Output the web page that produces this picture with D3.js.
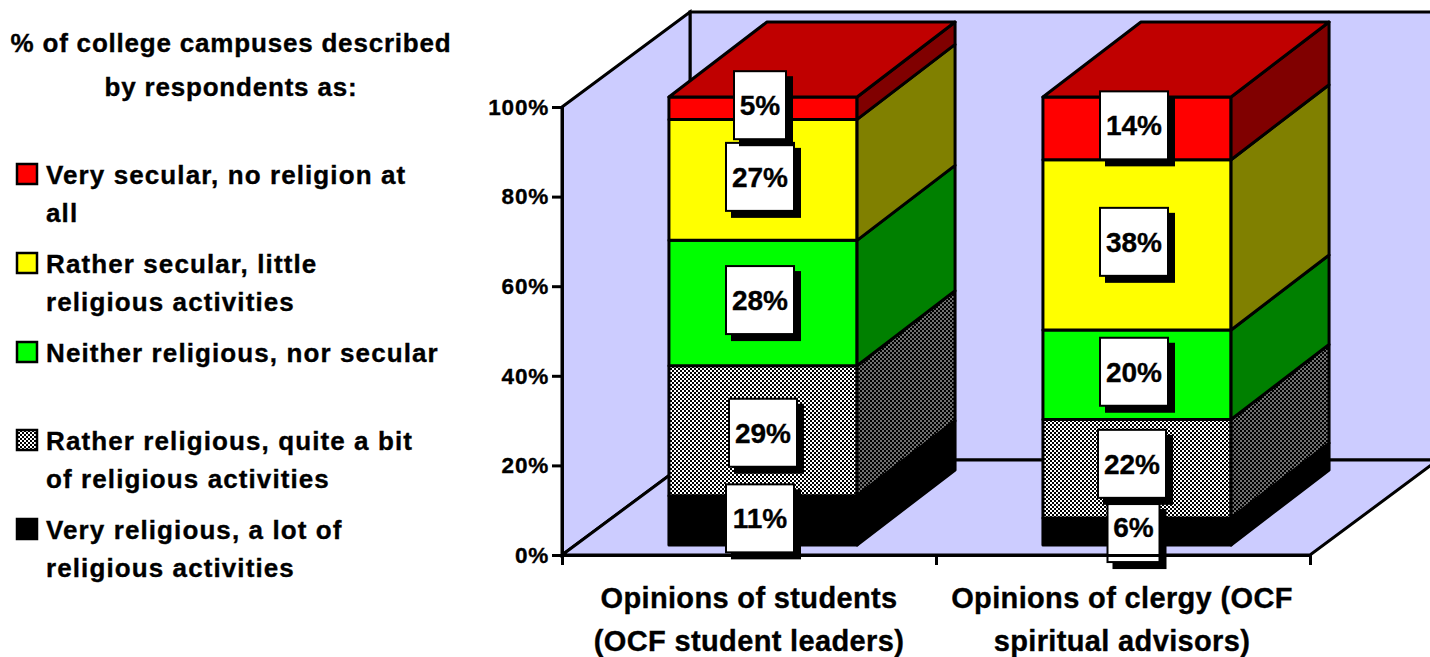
<!DOCTYPE html>
<html>
<head>
<meta charset="utf-8">
<script src="https://cdn.jsdelivr.net/npm/d3@7/dist/d3.min.js"></script>
<style>
html,body{margin:0;padding:0;background:#fff;}
svg{display:block;}
text{font-family:"Liberation Sans",Arial,sans-serif;font-weight:700;fill:#000;stroke:#000;stroke-width:0.35px;}
</style>
</head>
<body>
<svg id="chart" width="1430" height="657"></svg>
<script>
// Stacked shares per respondent group, bottom of the stack first
const groups = ["students", "clergy"];
const groupLines = [
  ["Opinions of students", "(OCF student leaders)"],
  ["Opinions of clergy (OCF", "spiritual advisors)"]
];
const veryReligious = [11, 6];
const ratherReligious = [29, 22];
const neither = [28, 20];
const ratherSecular = [27, 38];
const verySecular = [5, 14];
const seriesValues = [veryReligious, ratherReligious, neither, ratherSecular, verySecular];
const seriesKeys = ["vr", "rr", "ne", "rs", "vs"];
const frontFill = { vr: "#000000", rr: "url(#dither)", ne: "#00ff00", rs: "#ffff00", vs: "#ff0000" };
const sideFill = { vr: "#000000", rr: "url(#ditherDark)", ne: "#008000", rs: "#808000", vs: "#800000" };
const yTicks = [0, 20, 40, 60, 80, 100];
const titleLines = ["% of college campuses described", "by respondents as:"];
const legendKeys = ["vs", "rs", "ne", "rr", "vr"];
const legendLines = [
  ["Very secular, no religion at", "all"],
  ["Rather secular, little", "religious activities"],
  ["Neither religious, nor secular"],
  ["Rather religious, quite a bit", "of religious activities"],
  ["Very religious, a lot of", "religious activities"]
];
const legendTop = [174, 263, 352, 440, 529];
// Label box offsets from each segment centre, per series and group
const boxNudge = [
  [[-3, -2], [-3.5, 1.5]],
  [[0, 2], [-5, -5]],
  [[-3, -3], [-3, -3]],
  [[-3, -3], [-3, -3]],
  [[-3, -3], [-3, -3]]
];

const svg = d3.select("#chart");
const defs = svg.append("defs");
function checker(id, a, b) {
  const p = defs.append("pattern").attr("id", id).attr("width", 4).attr("height", 4)
    .attr("patternUnits", "userSpaceOnUse");
  p.append("rect").attr("width", 4).attr("height", 4).attr("fill", a);
  p.append("rect").attr("width", 2).attr("height", 2).attr("fill", b);
  p.append("rect").attr("x", 2).attr("y", 2).attr("width", 2).attr("height", 2).attr("fill", b);
}
checker("dither", "#000000", "#ffffff");
checker("ditherDark", "#000000", "#707070");

// Front plane of the 3D box and its depth offsets
const plot = { left: 562, right: 1310, top: 107, bottom: 555 };
const wallDepth = { dx: 128, dy: -95 };
const barDepth = { dx: 98, dy: -75 };
const barShift = { dx: 14, dy: -10 };
const y = d3.scaleLinear().domain([0, 100]).range([plot.bottom, plot.top]);
const x = d3.scaleBand().domain(groups).range([plot.left, plot.right]).paddingInner(0.497).paddingOuter(0.2485);
const line = d3.line();

const walls = svg.append("g").attr("fill", "#ccccff").attr("stroke", "#000").attr("stroke-width", 3).attr("stroke-linejoin", "miter");
const wx = plot.left + wallDepth.dx, wTop = plot.top + wallDepth.dy, wBot = plot.bottom + wallDepth.dy;
walls.append("path").attr("d", line([[wx, wTop], [wx + 760, wTop], [wx + 760, wBot], [wx, wBot]]) + "Z");
walls.append("path").attr("d", line([[plot.left, plot.top], [wx, wTop], [wx, wBot], [plot.left, plot.bottom]]) + "Z");
walls.append("path").attr("d", line([[plot.left, plot.bottom], [plot.right, plot.bottom], [plot.right + wallDepth.dx, wBot], [wx, wBot]]) + "Z");

// Stacked prisms
const stack = d3.stack().keys(d3.range(seriesKeys.length)).value((g, k) => seriesValues[k][g])(d3.range(groups.length));
const bars = svg.append("g").attr("stroke", "#000").attr("stroke-width", 3).attr("stroke-linejoin", "round");
groups.forEach((g, gi) => {
  const x0 = x(g) + barShift.dx, x1 = x0 + x.bandwidth();
  stack.forEach((s, si) => {
    const key = seriesKeys[si];
    const yb = y(s[gi][0]) + barShift.dy, yt = y(s[gi][1]) + barShift.dy;
    bars.append("path").attr("fill", frontFill[key])
      .attr("d", line([[x0, yb], [x1, yb], [x1, yt], [x0, yt]]) + "Z");
    bars.append("path").attr("fill", sideFill[key])
      .attr("d", line([[x1, yb], [x1 + barDepth.dx, yb + barDepth.dy], [x1 + barDepth.dx, yt + barDepth.dy], [x1, yt]]) + "Z");
    if (si === stack.length - 1) {
      bars.append("path").attr("fill", "#c00000")
        .attr("d", line([[x0, yt], [x1, yt], [x1 + barDepth.dx, yt + barDepth.dy], [x0 + barDepth.dx, yt + barDepth.dy]]) + "Z");
    }
  });
});

// Value tags with a hard drop shadow
const tags = svg.append("g");
stack.forEach((s, si) => {
  groups.forEach((g, gi) => {
    const v = seriesValues[si][gi];
    const cx = x(g) + barShift.dx + x.bandwidth() / 2 + boxNudge[si][gi][0];
    const cy = (y(s[gi][0]) + y(s[gi][1])) / 2 + barShift.dy + boxNudge[si][gi][1];
    const w = v < 10 ? 52 : 68, h = v === 6 ? 58 : 68;
    const top = cy - h / 2;
    const ty = v === 6 ? cy + 4 : cy + 10;
    tags.append("rect").attr("x", cx - w / 2 - 1 + 6).attr("y", top - 1 + 6).attr("width", w + 2).attr("height", h + 2).attr("fill", "#000");
    tags.append("rect").attr("x", cx - w / 2).attr("y", top).attr("width", w).attr("height", h).attr("fill", "#fff").attr("stroke", "#000").attr("stroke-width", 2);
    tags.append("text").attr("x", cx).attr("y", ty).attr("text-anchor", "middle").attr("font-size", 28).text(v + "%");
  });
});

// Axes along the front edge of the floor
const yAxis = d3.axisLeft(y).tickValues(yTicks).tickFormat(d => d + "%").tickSize(10).tickPadding(3);
const yg = svg.append("g").attr("transform", `translate(${plot.left},0)`).call(yAxis);
yg.select(".domain").attr("stroke-width", 3);
yg.selectAll(".tick line").attr("stroke-width", 3);
yg.selectAll("text").style("font-size", "22.5px").style("letter-spacing", "0.8px").style("font-family", '"Liberation Sans"').style("font-weight", 700);

const xt = d3.scaleLinear().domain([0, 2]).range([plot.left, plot.right]);
const xAxis = d3.axisBottom(xt).tickValues([0, 1, 2]).tickFormat("").tickSize(10).tickSizeOuter(0);
const xg = svg.append("g").attr("transform", `translate(0,${plot.bottom})`).call(xAxis);
xg.select(".domain").attr("stroke-width", 3);
xg.selectAll(".tick line").attr("stroke-width", 3);

groupLines.forEach((lines, i) => {
  const cx = (xt(i) + xt(i + 1)) / 2 - (i ? 1 : 0);
  lines.forEach((t, j) => {
    svg.append("text").attr("x", cx).attr("y", 608 + j * 43).attr("text-anchor", "middle")
      .attr("font-size", 29).attr("letter-spacing", 0.35).text(t);
  });
});

// Legend block
titleLines.forEach((t, j) => {
  svg.append("text").attr("x", 231).attr("y", 52 + j * 44).attr("text-anchor", "middle")
    .attr("font-size", 26).attr("letter-spacing", 0.8).text(t);
});
legendKeys.forEach((k, i) => {
  const top = legendTop[i];
  svg.append("rect").attr("x", 17).attr("y", top - 10).attr("width", 20).attr("height", 20)
    .attr("fill", frontFill[k]).attr("stroke", "#000").attr("stroke-width", 2.5);
  legendLines[i].forEach((t, j) => {
    svg.append("text").attr("x", 46).attr("y", top + 10 + j * 38).attr("font-size", 26).attr("letter-spacing", 1.1).text(t);
  });
});
</script>
</body>
</html>
